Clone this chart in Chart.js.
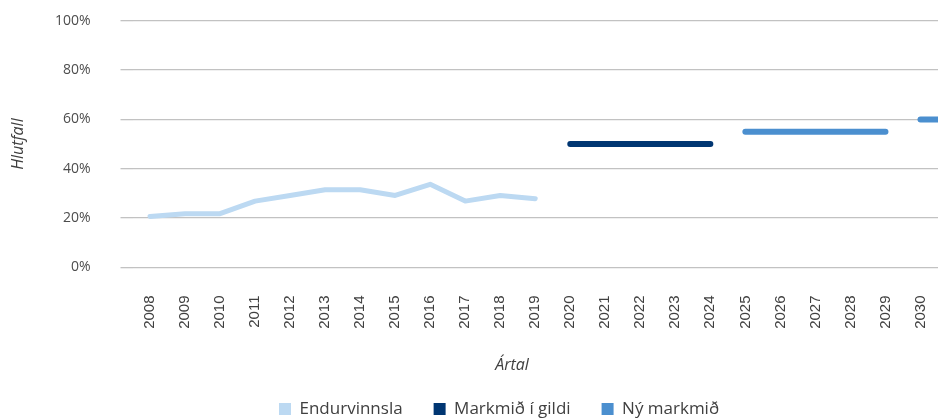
<!DOCTYPE html>
<html>
<head>
<meta charset="utf-8">
<script src="https://cdn.jsdelivr.net/npm/chart.js@4"></script>
<style>
  html, body { margin: 0; padding: 0; background: #fff; overflow: hidden; }
  /* one extra year to the right is drawn off-page, as in the source */
  #wrap { width: 973px; height: 418px; position: relative; }
</style>
</head>
<body>
<div id="wrap"><canvas id="chart"></canvas></div>
<script>
// 2031 sits just past the visible edge so the last target line runs off the page
const years = ['2008', '2009', '2010', '2011', '2012', '2013', '2014', '2015', '2016', '2017', '2018', '2019',
  '2020', '2021', '2022', '2023', '2024', '2025', '2026', '2027', '2028', '2029', '2030', '2031'];

const recycling = [20.7, 21.8, 21.8, 26.9, 29.2, 31.5, 31.5, 29.2, 33.7, 26.9, 29.2, 27.9]; // 2008-2019
const targetInForce = [50, 50, 50, 50, 50];   // 2020-2024
const newTarget = [55, 55, 55, 55, 55];       // 2025-2029
const newTargetLater = [60, 60];              // 2030-2031

const yTicks = [0, 20, 40, 60, 80, 100];

const LIGHT = '#bcd9f2';
const NAVY = '#003672';
const MID = '#4b8fcf';

// place a short series at the right year on the shared axis
function placeAt(startYear, values) {
  const out = years.map(() => null);
  const i0 = years.indexOf(startYear);
  values.forEach((v, i) => { out[i0 + i] = v; });
  return out;
}

// legend and axis title sit where the source has them
const placeBoxes = {
  id: 'placeBoxes',
  beforeDraw(chart) {
    const lg = chart.legend;
    if (lg) {
      const h = lg.bottom - lg.top;
      lg.left = 248;
      lg.right = 1200;
      lg.top = 369.5;
      lg.bottom = lg.top + h;
    }
    const t = chart.titleBlock;
    if (t) {
      t.left = 512 - 500;
      t.right = 512 + 500;
      t.top = 355.4;
      t.bottom = t.top + 19.2;
    }
  }
};

const lineStyle = { pointRadius: 0, pointHoverRadius: 0, tension: 0, borderCapStyle: 'round', borderJoinStyle: 'round', spanGaps: false };

new Chart(document.getElementById('chart'), {
  type: 'line',
  data: {
    labels: years,
    datasets: [
      { ...lineStyle, label: 'Endurvinnsla', data: placeAt('2008', recycling), borderColor: LIGHT, backgroundColor: LIGHT, borderWidth: 5 },
      { ...lineStyle, label: 'Markmið í gildi', data: placeAt('2020', targetInForce), borderColor: NAVY, backgroundColor: NAVY, borderWidth: 6 },
      { ...lineStyle, label: 'Ný markmið', data: placeAt('2025', newTarget), borderColor: MID, backgroundColor: MID, borderWidth: 6 },
      { ...lineStyle, label: 'Ný markmið 2030', data: placeAt('2030', newTargetLater), borderColor: MID, backgroundColor: MID, borderWidth: 6 }
    ]
  },
  options: {
    responsive: true,
    maintainAspectRatio: false,
    animation: false,
    layout: { padding: { top: 20.7, right: 0, bottom: 0, left: 0 } },
    scales: {
      x: {
        offset: true,
        grid: { display: false, drawTicks: false },
        border: { display: false },
        ticks: {
          autoSkip: false, minRotation: 90, maxRotation: 90, padding: 28,
          color: '#404040', font: { family: 'Liberation Sans', size: 15 }
        },
        afterFit: s => { s.height = 73.3; s.paddingLeft = 0; s.paddingRight = 0; }
      },
      y: {
        min: 0,
        max: 100,
        afterBuildTicks: s => { s.ticks = yTicks.map(v => ({ value: v })); },
        ticks: {
          padding: 30, color: '#4d4d4d', font: { family: 'Open Sans', size: 14 },
          callback: v => v + '%'
        },
        grid: { color: '#c2c2c2', lineWidth: 1.3, drawTicks: true, tickLength: 12 },
        border: { display: false },
        title: {
          display: true, text: 'Hlutfall', color: '#404040',
          font: { family: 'Open Sans', size: 16, style: 'italic' },
          padding: { top: 8.4, bottom: 0 }
        },
        afterFit: s => { s.width = 132.5; s.paddingTop = 0; s.paddingBottom = 0; }
      }
    },
    plugins: {
      title: {
        display: true, text: 'Ártal', position: 'bottom', weight: 500,
        color: '#404040', font: { family: 'Open Sans', size: 16, style: 'italic', weight: 'normal' },
        padding: 0
      },
      legend: {
        position: 'bottom',
        align: 'start',
        labels: {
          boxWidth: 12, boxHeight: 12, padding: 31, color: '#404040',
          font: { family: 'Open Sans', size: 17 },
          filter: item => item.text !== 'Ný markmið 2030',
          generateLabels: chart => Chart.defaults.plugins.legend.labels.generateLabels(chart)
            .map(l => ({ ...l, lineWidth: 0 }))
        }
      },
      tooltip: { enabled: false }
    }
  },
  plugins: [placeBoxes]
});
</script>
</body>
</html>
